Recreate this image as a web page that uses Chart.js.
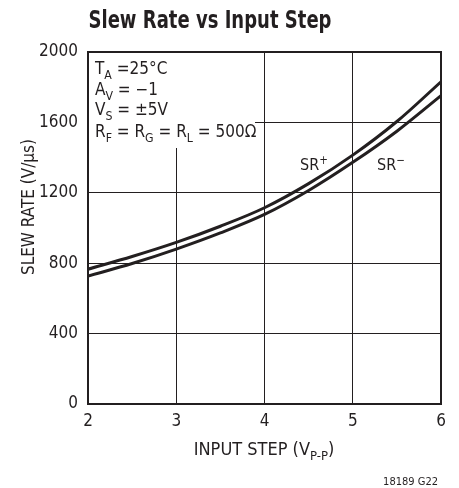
<!DOCTYPE html>
<html><head><meta charset="utf-8">
<script src="https://cdn.jsdelivr.net/npm/chart.js@4.4.0/dist/chart.umd.min.js"></script>
<style>html,body{margin:0;padding:0;background:#fff}#wrap{width:459px;height:488px}</style>
</head><body><div id="wrap"><canvas id="c" width="459" height="488"></canvas></div>
<script>
const inputStep = [2, 2.5, 3, 3.5, 4, 4.5, 5, 5.5, 6];
const srPlus  = [766, 838, 918, 1010, 1115, 1252, 1414, 1605, 1831];
const srMinus = [727, 798, 880, 972, 1077, 1213, 1373, 1550, 1752];
const yTicks = [0, 400, 800, 1200, 1600, 2000];
const xTicks = [2, 3, 4, 5, 6];
const FONT = "'Liberation Sans Narrow','DejaVu Sans Condensed','Liberation Sans',sans-serif";
const TXT = '#231f20';

function richText(ctx, parts, x, y, size, align) {
  let w = 0;
  parts.forEach(p => { ctx.font = (p.s ? size*0.72 : size) + 'px ' + FONT; w += ctx.measureText(p.t).width; });
  let cx = align === 'center' ? x - w/2 : (align === 'right' ? x - w : x);
  ctx.textAlign = 'left'; ctx.textBaseline = 'alphabetic';
  parts.forEach(p => {
    ctx.font = (p.s ? size*0.72 : size) + 'px ' + FONT;
    const dy = p.s === 'sub' ? size*0.28 : (p.s === 'sup' ? -size*0.38 : 0);
    ctx.fillText(p.t, cx, y + dy);
    cx += ctx.measureText(p.t).width;
  });
}

const textPlugin = {
  id: 'texts',
  afterDraw(chart) {
    const ctx = chart.ctx, a = chart.chartArea;
    ctx.save();
    ctx.fillStyle = TXT;
    // title, fitted to the reference width
    ctx.font = 'bold 25px ' + FONT; ctx.textAlign = 'center'; ctx.textBaseline = 'alphabetic';
    const title = 'Slew Rate vs Input Step';
    const tw = ctx.measureText(title).width;
    ctx.save();
    ctx.translate(210, 28); ctx.scale(Math.min(1, 243 / tw), 1);
    ctx.fillText(title, 0, 0);
    ctx.restore();
    // annotation box
    ctx.fillStyle = '#fff';
    ctx.fillRect(a.left + 1, a.top + 1, 166, 95);
    ctx.fillStyle = TXT;
    richText(ctx, [{t:'T'},{t:'A',s:'sub'},{t:' =25°C'}], 95, 74, 17, 'left');
    richText(ctx, [{t:'A'},{t:'V',s:'sub'},{t:' = −1'}], 95, 95, 17, 'left');
    richText(ctx, [{t:'V'},{t:'S',s:'sub'},{t:' = ±5V'}], 95, 115, 17, 'left');
    richText(ctx, [{t:'R'},{t:'F',s:'sub'},{t:' = R'},{t:'G',s:'sub'},{t:' = R'},{t:'L',s:'sub'},{t:' = 500Ω'}], 95, 137, 17, 'left');
    richText(ctx, [{t:'SR'},{t:'+',s:'sup'}], 300, 170, 16, 'left');
    richText(ctx, [{t:'SR'},{t:'−',s:'sup'}], 377, 170, 16, 'left');
    // axis titles
    richText(ctx, [{t:'INPUT STEP (V'},{t:'P-P',s:'sub'},{t:')'}], 264, 455, 18, 'center');
    ctx.save();
    ctx.translate(34, 207); ctx.rotate(-Math.PI/2);
    ctx.font = '17px ' + FONT; ctx.textAlign = 'center'; ctx.textBaseline = 'alphabetic';
    ctx.fillText('SLEW RATE (V/µs)', 0, 0);
    ctx.restore();
    ctx.font = '11px ' + FONT; ctx.textAlign = 'right';
    ctx.fillText('18189 G22', 438, 485);
    // frame
    ctx.strokeStyle = '#231f20'; ctx.lineWidth = 2;
    ctx.strokeRect(a.left, a.top, a.right - a.left, a.bottom - a.top);
    ctx.restore();
  }
};

new Chart(document.getElementById('c'), {
  type: 'line',
  data: {
    datasets: [
      { label: 'SR+', data: inputStep.map((x,i)=>({x, y: srPlus[i]})), borderColor: '#231f20', borderWidth: 3, pointRadius: 0, cubicInterpolationMode: 'monotone', fill: false },
      { label: 'SR−', data: inputStep.map((x,i)=>({x, y: srMinus[i]})), borderColor: '#231f20', borderWidth: 3, pointRadius: 0, cubicInterpolationMode: 'monotone', fill: false }
    ]
  },
  options: {
    responsive: false, animation: false, devicePixelRatio: 1,
    layout: { padding: { top: 52, right: 18, left: 0, bottom: 0 } },
    plugins: { legend: { display: false }, tooltip: { enabled: false }, title: { display: false } },
    scales: {
      x: {
        type: 'linear', min: 2, max: 6,
        afterBuildTicks: s => { s.ticks = xTicks.map(v => ({value: v})); },
        afterFit: s => { s.height = 84; },
        grid: { color: '#231f20', lineWidth: 1, drawTicks: false },
        border: { color: '#231f20', width: 2 },
        ticks: { color: TXT, font: { family: FONT, size: 17 }, padding: 7, maxRotation: 0, callback: v => String(v) }
      },
      y: {
        min: 0, max: 2000,
        afterBuildTicks: s => { s.ticks = yTicks.map(v => ({value: v})); },
        afterFit: s => { s.width = 88; },
        grid: { color: '#231f20', lineWidth: 1, drawTicks: false },
        border: { color: '#231f20', width: 2 },
        ticks: { color: TXT, font: { family: FONT, size: 17 }, padding: 10, callback: v => String(v) }
      }
    }
  },
  plugins: [textPlugin]
});
</script></body></html>
